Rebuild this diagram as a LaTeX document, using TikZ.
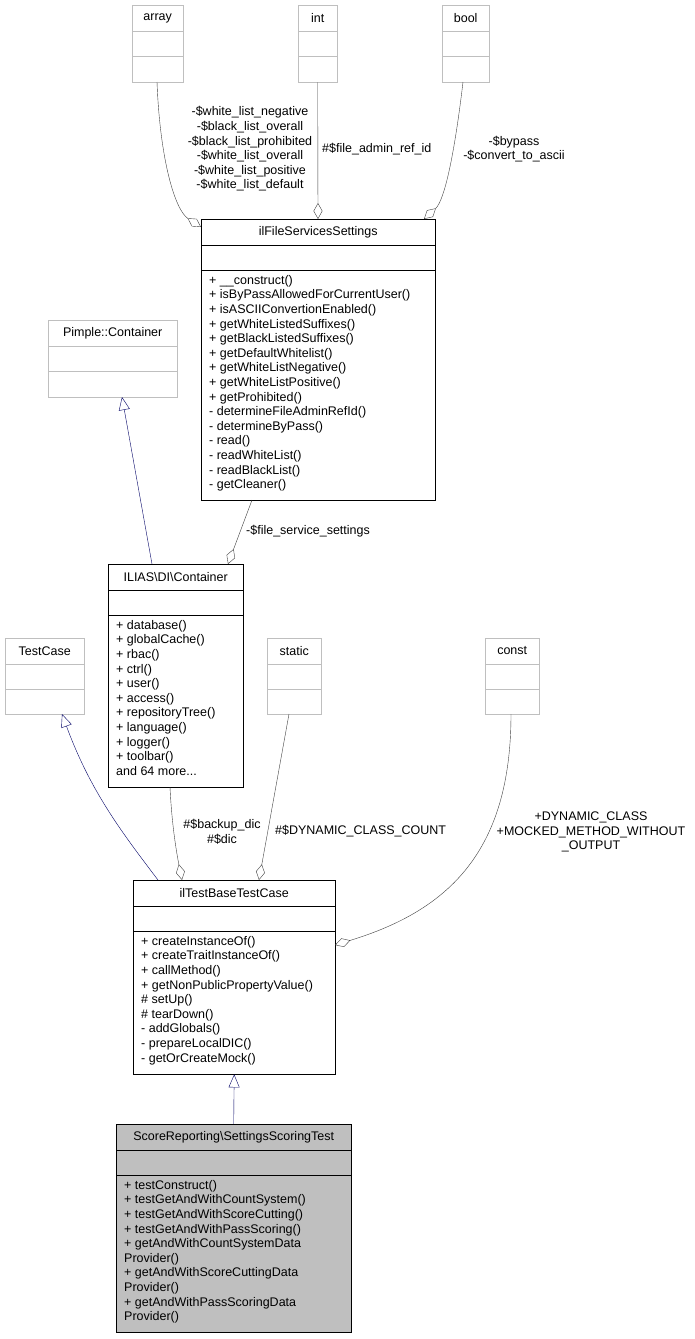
\documentclass[tikz,border=0pt]{standalone}
\usepackage{fontspec}
\setmainfont{Liberation Sans}
\usetikzlibrary{arrows.meta,positioning,calc}
\tikzset{
    classbox/.style={rectangle, draw=black, anchor=north west, inner sep=0pt},
    typebox/.style={classbox, draw=black!25},
    member/.style={anchor=north west, align=left, inner sep=0pt, font=\fontsize{12.5}{14.6}\selectfont},
    title/.style={anchor=center, inner sep=0pt, font=\fontsize{12.5}{14.6}\selectfont},
    lbl/.style={align=center, inner sep=0pt, font=\fontsize{12.5}{14.6}\selectfont},
    aggr/.style={draw=black!75, -{Diamond[open,length=16pt,width=9pt]}},
    inherit/.style={draw=blue!40!black, -{Triangle[open,length=13pt,width=11pt]}}
}
% \umlclass{name}{x}{y}{w}{h}{style}{title}
\newcommand{\umlclass}[7]{%
  \node[#6, minimum width=#4pt, minimum height=#5pt] (#1) at (#2,#3) {};
  \draw[#6] ($(#1.north west)+(0,26)$) -- ++(#4,0);
  \draw[#6] ($(#1.north west)+(0,51)$) -- ++(#4,0);
  \node[title] at ($(#1.north)+(0,13)$) {#7};}
\begin{document}
\begin{tikzpicture}[x=1pt,y=-1pt]
\useasboundingbox (0,0) rectangle (695,1339);
\fill[white] (0,0) rectangle (695,1339);
% types
\umlclass{array}{132}{5}{51}{77}{typebox}{array}
\umlclass{int}{298}{5}{39}{77}{typebox}{int}
\umlclass{bool}{442}{5}{47}{77}{typebox}{bool}
\umlclass{pimple}{48}{320}{129}{77}{typebox}{Pimple::Container}
\umlclass{testcase}{5}{638}{79}{76}{typebox}{TestCase}
\umlclass{static}{267}{638}{54}{76}{typebox}{static}
\umlclass{const}{485}{638}{54}{76}{typebox}{const}
% classes
\umlclass{settings}{201}{219}{234}{281}{classbox}{ilFileServicesSettings}
\node[member] at (209,275) {+ \_\_construct()\\+ isByPassAllowedForCurrentUser()\\+ isASCIIConvertionEnabled()\\+ getWhiteListedSuffixes()\\+ getBlackListedSuffixes()\\+ getDefaultWhitelist()\\+ getWhiteListNegative()\\+ getWhiteListPositive()\\+ getProhibited()\\- determineFileAdminRefId()\\- determineByPass()\\- read()\\- readWhiteList()\\- readBlackList()\\- getCleaner()};
\umlclass{dic}{108}{564}{135}{223}{classbox}{ILIAS\textbackslash DI\textbackslash Container}
\node[member] at (116,620) {+ database()\\+ globalCache()\\+ rbac()\\+ ctrl()\\+ user()\\+ access()\\+ repositoryTree()\\+ language()\\+ logger()\\+ toolbar()\\and 64 more...};
\umlclass{base}{133}{880}{202}{194}{classbox}{ilTestBaseTestCase}
\node[member] at (141,936) {+ createInstanceOf()\\+ createTraitInstanceOf()\\+ callMethod()\\+ getNonPublicPropertyValue()\\\# setUp()\\\# tearDown()\\- addGlobals()\\- prepareLocalDIC()\\- getOrCreateMock()};
\umlclass{scoring}{116}{1124}{235}{208}{classbox,fill=black!25}{ScoreReporting\textbackslash SettingsScoringTest}
\draw ($(scoring.north west)+(0,26)$) -- ++(235,0);
\draw ($(scoring.north west)+(0,51)$) -- ++(235,0);
\node[member] at (124,1180) {+ testConstruct()\\+ testGetAndWithCountSystem()\\+ testGetAndWithScoreCutting()\\+ testGetAndWithPassScoring()\\+ getAndWithCountSystemData\\Provider()\\+ getAndWithScoreCuttingData\\Provider()\\+ getAndWithPassScoringData\\Provider()};
% connectors
\coordinate (a1) at (157,82);
\coordinate (a2) at (201,227);
\draw[aggr] (a1) .. controls (160,160) and (175,210) .. (a2);
\draw[aggr] (int.south) -- (318,219);
\draw[aggr] (463,82) .. controls (455,150) and (445,200) .. (424,219);
\draw[aggr] (252,500) -- (228,564);
\draw[inherit] (152,564) -- (122,397);
\draw[inherit] (158,880) .. controls (120,830) and (90,790) .. (62,714);
\draw[aggr] (170,787) .. controls (172,830) and (178,860) .. (182,880);
\draw[aggr] (289,714) -- (259,880);
\draw[aggr] (511,714) .. controls (511,850) and (450,910) .. (335,945);
\draw[inherit] (scoring.north) -- (base.south);
% labels
\node[lbl] at (250,149) {-\$white\_list\_negative\\-\$black\_list\_overall\\-\$black\_list\_prohibited\\-\$white\_list\_overall\\-\$white\_list\_positive\\-\$white\_list\_default};
\node[lbl, anchor=west] at (322,149) {\#\$file\_admin\_ref\_id};
\node[lbl] at (514,149) {-\$bypass\\-\$convert\_to\_ascii};
\node[lbl, anchor=west] at (246,531) {-\$file\_service\_settings};
\node[lbl] at (222,832) {\#\$backup\_dic\\\#\$dic};
\node[lbl, anchor=west] at (275,831) {\#\$DYNAMIC\_CLASS\_COUNT};
\node[lbl] at (591,832) {+DYNAMIC\_CLASS\\+MOCKED\_METHOD\_WITHOUT\\\_OUTPUT};
\end{tikzpicture}
\end{document}
